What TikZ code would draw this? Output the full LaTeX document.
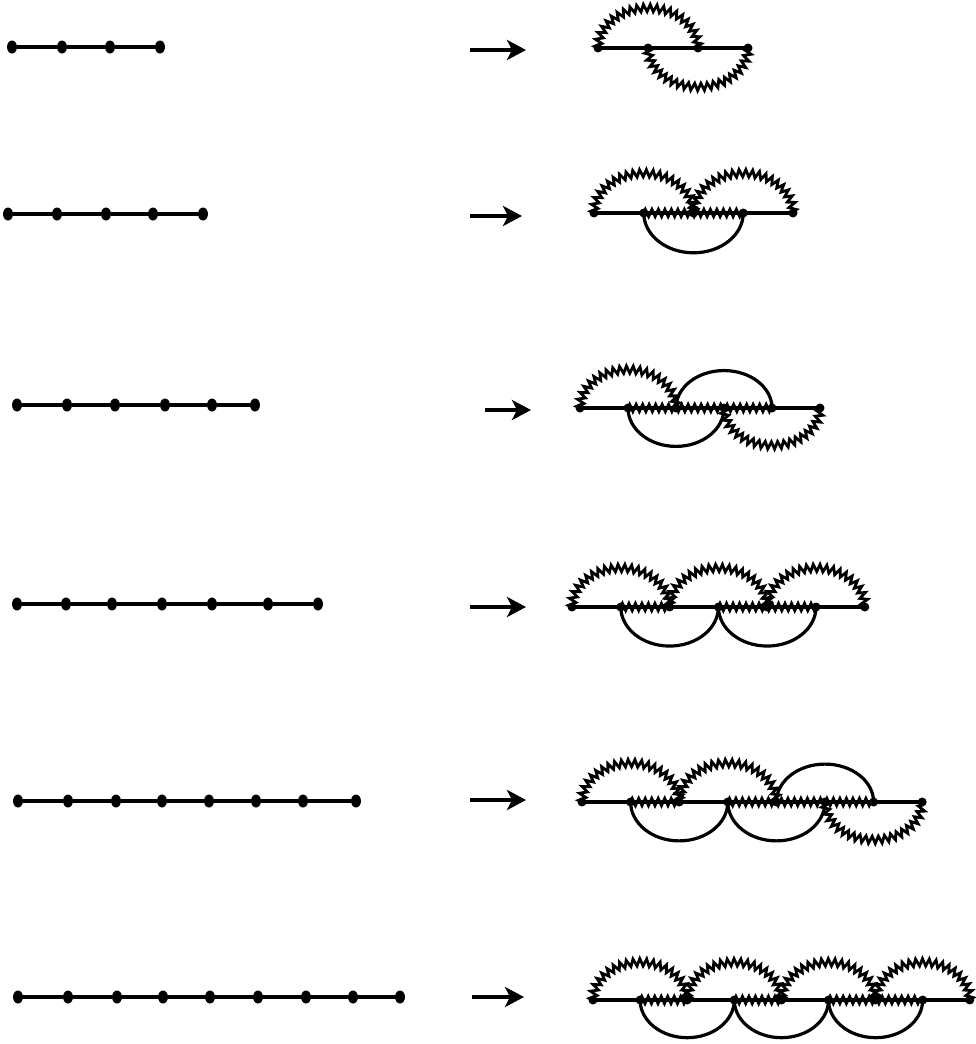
\documentclass[tikz,border=0pt]{standalone}
\usetikzlibrary{decorations.pathmorphing,arrows.meta,shapes.geometric}
\newcommand\arcUZ[2]{\draw[zig] (#1.center) arc[start angle=180,end angle=0,x radius=#2,y radius=0.8*#2];}
\newcommand\arcUS[2]{\draw[sarc] (#1.center) arc[start angle=180,end angle=0,x radius=#2,y radius=0.78*#2];}
\newcommand\arcLZ[2]{\draw[zig] (#1.center) arc[start angle=180,end angle=360,x radius=#2,y radius=0.78*#2];}
\newcommand\arcLS[2]{\draw[sarc] (#1.center) arc[start angle=180,end angle=360,x radius=#2,y radius=0.8*#2];}
\newcommand\rightrow[5]{% name, x0, d, y, last index
  \foreach \i in {0,...,#5}{\node[rdot] (#1v\i) at ({#2+\i*#3},-#4) {};}
  \draw[edge] (#1v0.center) -- (#1v#5.center);}
\begin{document}
\begin{tikzpicture}[x=1pt,y=1pt,
  edge/.style={line width=3.2pt},
  dot/.style={ellipse,fill=black,inner sep=0pt,minimum width=10pt,minimum height=13pt},
  rdot/.style={circle,fill=black,inner sep=0pt,minimum size=9pt},
  zig/.style={line width=2.8pt,decorate,decoration={zigzag,segment length=6.5pt,amplitude=3.6pt}},
  sarc/.style={line width=3.2pt},
  arr/.style={line width=4.5pt,-{Stealth[length=19pt,width=20pt,inset=5pt]}}]
\useasboundingbox (0,0) rectangle (975,-1044);
% left paths
\foreach \r/\y/\xs in {1/47/{12,62,110,160},2/214/{8,57,106,153,203},3/405/{17,67,115,165,212,255},4/604/{17,66,112,162,212,268,318},5/801/{18,68,116,162,209,256,303,356},6/997/{18,68,117,163,210,258,306,353,400}}{
  \foreach \x [count=\i from 0, remember=\i as \j (initially 0)] in \xs {
    \node[dot] (L\r v\i) at (\x,-\y) {};
    \ifnum\i>0 \draw[edge] (L\r v\j) -- (L\r v\i); \fi
  }
}
% arrows
\foreach \r/\xa/\xb/\y in {1/470/526/50,2/470/522/216,3/485/531/410,4/470/526/607,5/470/526/800,6/472/524/997}{
  \coordinate (A\r s) at (\xa,-\y);
  \coordinate (A\r e) at (\xb,-\y);
  \draw[arr] (A\r s) -- (A\r e);
}
% row 1
\rightrow{R1}{598}{50}{48}{3}
\arcUZ{R1v0}{50}
\arcLZ{R1v1}{50}
% row 2
\rightrow{R2}{594}{49.75}{213}{4}
\draw[zig] (R2v1.center) -- (R2v3.center);
\arcUZ{R2v0}{49.75}
\arcUZ{R2v2}{49.75}
\arcLS{R2v1}{49.75}
% row 3
\rightrow{R3}{580}{48}{408}{5}
\draw[zig] (R3v1.center) -- (R3v4.center);
\arcUZ{R3v0}{48}
\arcUS{R3v2}{48}
\arcLS{R3v1}{48}
\arcLZ{R3v3}{48}
% row 4
\rightrow{R4}{572}{48.8}{607}{6}
\draw[zig] (R4v1.center) -- (R4v2.center);
\draw[zig] (R4v3.center) -- (R4v5.center);
\arcUZ{R4v0}{48.8}
\arcUZ{R4v2}{48.8}
\arcUZ{R4v4}{48.8}
\arcLS{R4v1}{48.8}
\arcLS{R4v3}{48.8}
% row 5
\rightrow{R5}{582}{48.6}{802}{7}
\draw[zig] (R5v1.center) -- (R5v2.center);
\draw[zig] (R5v3.center) -- (R5v6.center);
\arcUZ{R5v0}{48.6}
\arcUZ{R5v2}{48.6}
\arcUS{R5v4}{48.6}
\arcLS{R5v1}{48.6}
\arcLS{R5v3}{48.6}
\arcLZ{R5v5}{48.6}
% row 6
\rightrow{R6}{593}{47.1}{1000}{8}
\draw[zig] (R6v1.center) -- (R6v2.center);
\draw[zig] (R6v3.center) -- (R6v4.center);
\draw[zig] (R6v5.center) -- (R6v7.center);
\arcUZ{R6v0}{47.1}
\arcUZ{R6v2}{47.1}
\arcUZ{R6v4}{47.1}
\arcUZ{R6v6}{47.1}
\arcLS{R6v1}{47.1}
\arcLS{R6v3}{47.1}
\arcLS{R6v5}{47.1}
\end{tikzpicture}
\end{document}
